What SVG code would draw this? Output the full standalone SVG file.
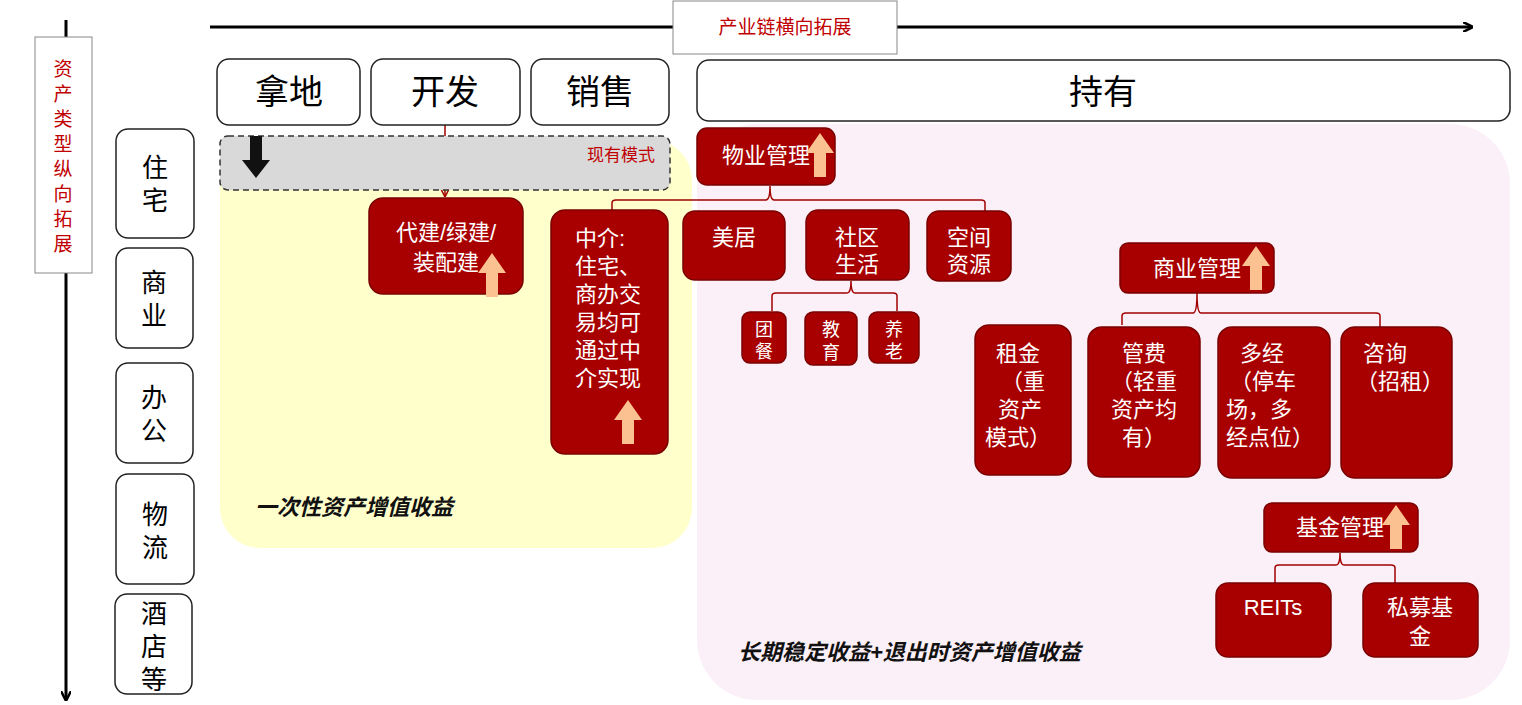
<svg xmlns="http://www.w3.org/2000/svg" width="1522" height="705" viewBox="0 0 1522 705">
<defs>
<style>
text{font-family:"Liberation Sans","Noto Sans CJK SC",sans-serif}
.hb{fill:#fff;stroke:#222;stroke-width:1.5}
.nd{fill:#a80000;stroke:#7a0000;stroke-width:1.5}
.nt{fill:#fff;font-size:22px;text-anchor:middle}
.st{fill:#fff;font-size:18px;text-anchor:middle}
.ht{fill:#000;font-size:34px;text-anchor:middle}
.lt{fill:#000;font-size:26px;text-anchor:middle}
.br{fill:none;stroke:#a00000;stroke-width:1.5}
.up{fill:#fcc190}
.it{font-size:22px;font-weight:bold;font-style:italic;fill:#111}
</style>
<marker id="ab" markerWidth="10" markerHeight="10" refX="9" refY="5" orient="auto" markerUnits="userSpaceOnUse"><path d="M0,0 L10,5 L0,10" fill="none" stroke="#000" stroke-width="2.5"/></marker>
<marker id="ar" markerWidth="10" markerHeight="10" refX="9" refY="5" orient="auto" markerUnits="userSpaceOnUse"><path d="M0,0 L10,5 L0,10" fill="none" stroke="#a00000" stroke-width="1.5"/></marker>
<path id="upa" d="M0,44 V20 H-8 L6,0 L20,20 H12 V44 Z"/>
</defs>
<rect x="0" y="0" width="1522" height="705" fill="#fff"/>
<rect x="697" y="124" width="813" height="576" rx="60" fill="#fcf0f8"/>
<rect x="220" y="140" width="472" height="408" rx="40" fill="#ffffcc"/>
<g id="connectors">
<line x1="66" y1="20" x2="66" y2="700" stroke="#000" stroke-width="3" marker-end="url(#ab)"/>
<line x1="210" y1="27" x2="1472" y2="27" stroke="#000" stroke-width="3" marker-end="url(#ab)"/>
<line x1="445" y1="125" x2="445" y2="196" stroke="#a00000" stroke-width="1.5" marker-end="url(#ar)"/>
<path class="br" d="M612,210 V203 Q612,200 616,200 H766 Q770,200 770,186 Q770,200 774,200 H981 Q985,200 985,203 V211"/>
<path class="br" d="M772,311 V296 Q772,293 776,293 H847 Q851,293 851,281 Q851,293 855,293 H893 Q897,293 897,296 V311"/>
<path class="br" d="M1122,325 V316 Q1122,313 1126,313 H1193 Q1197,313 1197,293 Q1197,313 1201,313 H1376 Q1380,313 1380,316 V327"/>
<path class="br" d="M1275,583 V568 Q1275,565 1279,565 H1336 Q1340,565 1340,553 Q1340,565 1344,565 H1391 Q1395,565 1395,568 V583"/>
</g>
<g id="axis-v"><rect x="35" y="37" width="57" height="236" fill="#fff" stroke="#888"/>
<text fill="#c00000" font-size="19" text-anchor="middle"><tspan x="63" y="76">资</tspan><tspan x="63" y="101">产</tspan><tspan x="63" y="126">类</tspan><tspan x="63" y="151">型</tspan><tspan x="63" y="176">纵</tspan><tspan x="63" y="201">向</tspan><tspan x="63" y="226">拓</tspan><tspan x="63" y="251">展</tspan></text></g>
<g id="axis-h"><rect x="673" y="1" width="224" height="53" fill="#fff" stroke="#888"/><text x="785" y="34" fill="#c00000" font-size="19" text-anchor="middle">产业链横向拓展</text></g>
<g id="nadi"><rect class="hb" x="217" y="59" width="143" height="66" rx="12"/><text class="ht" x="289" y="104">拿地</text></g>
<g id="kaifa"><rect class="hb" x="371" y="59" width="149" height="66" rx="12"/><text class="ht" x="445" y="104">开发</text></g>
<g id="xiaoshou"><rect class="hb" x="531" y="59" width="138" height="66" rx="12"/><text class="ht" x="600" y="104">销售</text></g>
<g id="chiyou"><rect class="hb" x="697" y="60" width="813" height="61" rx="12"/><text class="ht" x="1103" y="104">持有</text></g>
<g id="zhuzhai"><rect class="hb" x="116" y="129" width="78" height="109" rx="12"/><text class="lt"><tspan x="155" y="177">住</tspan><tspan x="155" y="210">宅</tspan></text></g>
<g id="shangye"><rect class="hb" x="116" y="248" width="77" height="100" rx="12"/><text class="lt"><tspan x="154" y="292">商</tspan><tspan x="154" y="325">业</tspan></text></g>
<g id="bangong"><rect class="hb" x="116" y="363" width="77" height="100" rx="12"/><text class="lt"><tspan x="154" y="407">办</tspan><tspan x="154" y="440">公</tspan></text></g>
<g id="wuliu"><rect class="hb" x="116" y="474" width="78" height="110" rx="12"/><text class="lt"><tspan x="155" y="524">物</tspan><tspan x="155" y="557">流</tspan></text></g>
<g id="jiudian"><rect class="hb" x="115" y="594" width="77" height="100" rx="12"/><text class="lt"><tspan x="154" y="623">酒</tspan><tspan x="154" y="656">店</tspan><tspan x="154" y="689">等</tspan></text></g>
<g id="xianyou"><rect x="220" y="136" width="450" height="54" rx="8" fill="#d9d9d9" stroke="#333" stroke-width="1.5" stroke-dasharray="6,4"/>
<path d="M250,136 H262 V160 H270 L256,178 L242,160 H250 Z" fill="#111"/>
<text x="655" y="161" fill="#c00000" font-size="17" text-anchor="end">现有模式</text></g>
<g id="daijian"><rect class="nd" x="369" y="198" width="154" height="96" rx="14"/><text class="nt"><tspan x="446" y="240">代建/绿建/</tspan><tspan x="446" y="270">装配建</tspan></text><use href="#upa" class="up" x="486" y="253"/></g>
<g id="zhongjie"><rect class="nd" x="551" y="210" width="117" height="244" rx="14"/><text class="nt" text-anchor="start" style="text-anchor:start"><tspan x="575" y="246">中介:</tspan><tspan x="575" y="274">住宅、</tspan><tspan x="575" y="302">商办交</tspan><tspan x="575" y="330">易均可</tspan><tspan x="575" y="358">通过中</tspan><tspan x="575" y="386">介实现</tspan></text><use href="#upa" class="up" x="622" y="400"/></g>
<g id="wuye"><rect class="nd" x="697" y="128" width="138" height="57" rx="10"/><text class="nt" x="766" y="163">物业管理</text><use href="#upa" class="up" x="814" y="133"/></g>
<g id="meiju"><rect class="nd" x="683" y="211" width="102" height="69" rx="12"/><text class="nt" x="734" y="245">美居</text></g>
<g id="shequ"><rect class="nd" x="806" y="210" width="103" height="70" rx="12"/><text class="nt"><tspan x="857" y="245">社区</tspan><tspan x="857" y="272">生活</tspan></text></g>
<g id="kongjian"><rect class="nd" x="927" y="211" width="84" height="70" rx="12"/><text class="nt"><tspan x="969" y="245">空间</tspan><tspan x="969" y="272">资源</tspan></text></g>
<g id="tuancan"><rect class="nd" x="742" y="312" width="44" height="51" rx="8"/><text class="st"><tspan x="764" y="336">团</tspan><tspan x="764" y="358">餐</tspan></text></g>
<g id="jiaoyu"><rect class="nd" x="805" y="312" width="52" height="53" rx="8"/><text class="st"><tspan x="831" y="336">教</tspan><tspan x="831" y="359">育</tspan></text></g>
<g id="yanglao"><rect class="nd" x="869" y="312" width="50" height="51" rx="8"/><text class="st"><tspan x="894" y="336">养</tspan><tspan x="894" y="358">老</tspan></text></g>
<g id="shangguan"><rect class="nd" x="1120" y="243" width="154" height="50" rx="8"/><text class="nt" x="1197" y="276">商业管理</text><use href="#upa" class="up" x="1250" y="246"/></g>
<g id="zujin"><rect class="nd" x="975" y="325" width="96" height="150" rx="14"/><text class="nt"><tspan x="1018" y="361">租金</tspan><tspan x="1023" y="389">（重</tspan><tspan x="1020" y="417">资产</tspan><tspan x="1018" y="445">模式）</tspan></text></g>
<g id="guanfei"><rect class="nd" x="1088" y="327" width="112" height="150" rx="14"/><text class="nt"><tspan x="1144" y="361">管费</tspan><tspan x="1144" y="389">（轻重</tspan><tspan x="1144" y="417">资产均</tspan><tspan x="1144" y="445">有）</tspan></text></g>
<g id="duojing"><rect class="nd" x="1218" y="327" width="112" height="151" rx="14"/><text class="nt" style="text-anchor:start"><tspan x="1240" y="361">多经</tspan><tspan x="1230" y="389">（停车</tspan><tspan x="1226" y="417">场，多</tspan><tspan x="1226" y="445">经点位）</tspan></text></g>
<g id="zixun"><rect class="nd" x="1341" y="327" width="111" height="151" rx="14"/><text class="nt" style="text-anchor:start"><tspan x="1363" y="361">咨询</tspan><tspan x="1356" y="389">（招租）</tspan></text></g>
<g id="jijin"><rect class="nd" x="1264" y="503" width="154" height="49" rx="8"/><text class="nt" x="1340" y="535">基金管理</text><use href="#upa" class="up" x="1390" y="505"/></g>
<g id="reits"><rect class="nd" x="1216" y="583" width="115" height="74" rx="12"/><text class="nt" x="1273" y="615">REITs</text></g>
<g id="simu"><rect class="nd" x="1363" y="583" width="115" height="74" rx="12"/><text class="nt"><tspan x="1420" y="615">私募基</tspan><tspan x="1420" y="644">金</tspan></text></g>
<text class="it" x="255" y="515">一次性资产增值收益</text>
<text class="it" x="738" y="660">长期稳定收益+退出时资产增值收益</text>
</svg>
